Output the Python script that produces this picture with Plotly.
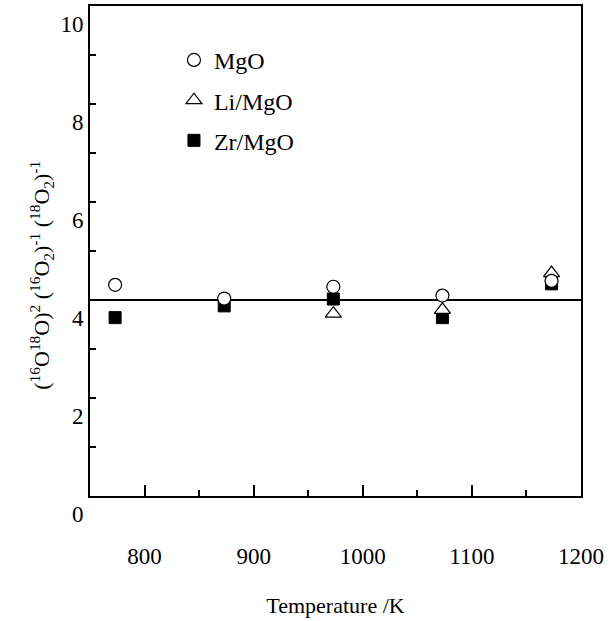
import plotly.graph_objects as go

# Data
temps_mgo = [773, 873, 973, 1073, 1173]
ratio_mgo = [4.31, 4.03, 4.27, 4.09, 4.39]

temps_li = [973, 1073, 1173]
ratio_li = [3.72, 3.80, 4.55]

temps_zr = [773, 873, 973, 1073, 1173]
ratio_zr = [3.64, 3.88, 4.02, 3.64, 4.33]

equilibrium_value = 4.0
x_range = [750, 1200]
y_range = [0, 10]

FONT = "Liberation Serif, Times New Roman, serif"

fig = go.Figure()

fig.add_trace(go.Scatter(
    x=temps_zr, y=ratio_zr, mode="markers", name="Zr/MgO",
    legendgroup="c", legendrank=3,
    marker=dict(symbol="square", size=12, color="black",
                line=dict(color="black", width=1)),
))
fig.add_trace(go.Scatter(
    x=temps_li, y=ratio_li, mode="markers", name="Li/MgO",
    legendgroup="b", legendrank=2,
    marker=dict(symbol="triangle-up", size=14, color="white",
                line=dict(color="black", width=1.2)),
))
fig.add_trace(go.Scatter(
    x=temps_mgo, y=ratio_mgo, mode="markers", name="MgO",
    legendgroup="a", legendrank=1,
    marker=dict(symbol="circle", size=13, color="white",
                line=dict(color="black", width=1.2)),
))

fig.add_shape(type="line", xref="x domain", yref="y", x0=0, x1=1,
              y0=equilibrium_value, y1=equilibrium_value,
              line=dict(color="black", width=2), layer="below")

fig.update_layout(
    width=614, height=621,
    margin=dict(l=90, r=33, t=4, b=125),
    paper_bgcolor="white", plot_bgcolor="white",
    font=dict(family=FONT, size=22, color="black"),
    showlegend=True,
    legend=dict(x=0.171, y=0.935, xanchor="left", yanchor="top",
                traceorder="grouped", tracegroupgap=6,
                bgcolor="rgba(0,0,0,0)", font=dict(family=FONT, size=24)),
    xaxis=dict(
        range=x_range, dtick=100, tick0=800,
        ticks="inside", ticklen=11, tickwidth=2, tickcolor="black",
        showline=True, linecolor="black", linewidth=2, mirror=True,
        showgrid=False, zeroline=False,
        tickfont=dict(family=FONT, size=23),
        ticklabelstandoff=38,
        minor=dict(dtick=50, ticks="inside", ticklen=6, tickwidth=2,
                   tickcolor="black", showgrid=False),
        title=dict(text="Temperature /K", font=dict(family=FONT, size=22),
                   standoff=30),
    ),
    yaxis=dict(
        range=y_range, dtick=2,
        ticks="inside", ticklen=6, tickwidth=2, tickcolor="black",
        showline=True, linecolor="black", linewidth=2, mirror=True,
        showgrid=False, zeroline=False,
        tickfont=dict(family=FONT, size=23),
        ticklabelshift=18,
        minor=dict(dtick=1, ticks="inside", ticklen=6, tickwidth=2,
                   tickcolor="black", showgrid=False),
    ),
    annotations=[dict(
        text="(<sup>16</sup>O<sup>18</sup>O)<sup>2</sup> (<sup>16</sup>O<sub>2</sub>)<sup>-1</sup> (<sup>18</sup>O<sub>2</sub>)<sup>-1</sup>",
        xref="paper", yref="paper", x=-0.135, y=0.45,
        textangle=-90, showarrow=False,
        font=dict(family=FONT, size=22, color="black"),
    )],
)

fig.write_html("out.html")
